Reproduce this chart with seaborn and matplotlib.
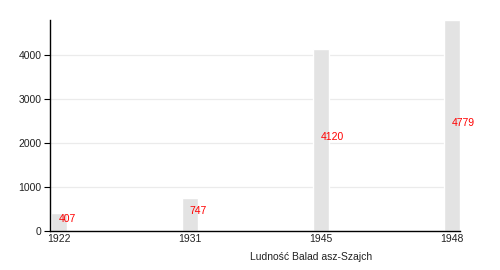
import matplotlib
matplotlib.use("Agg")
import matplotlib.pyplot as plt
import seaborn as sns
import pandas as pd

years = ["1922", "1931", "1945", "1948"]
population = [407, 747, 4120, 4779]
x_label = "Ludność Balad asz-Szajch"
y_ticks = [0, 1000, 2000, 3000, 4000]

sns.set_theme(style="white")
plt.rcParams['font.family'] = ['Liberation Sans', 'DejaVu Sans']

df = pd.DataFrame({"year": years, "population": population})

fig = plt.figure(figsize=(5, 2.7), dpi=100)
ax = fig.add_axes([0.10, 0.145, 0.82, 0.78])

sns.barplot(data=df, x="year", y="population", ax=ax, color="#e3e3e3",
            saturation=1, width=0.122, zorder=2)

for i, v in enumerate(population):
    ax.text(i, v / 2, str(v), color="#ff0000", fontsize=7.5,
            ha="left", va="baseline", zorder=3)

ax.set_ylim(0, 4779)
ax.set_xlim(-0.065, 3.062)
ax.set_yticks(y_ticks)
ax.yaxis.grid(True, color="#ebebeb", linewidth=0.9, zorder=0)
ax.set_axisbelow(True)

for s in ["top", "right"]:
    ax.spines[s].set_visible(False)
for s in ["left", "bottom"]:
    ax.spines[s].set_color("black")
    ax.spines[s].set_linewidth(1.0)

ax.tick_params(axis="y", length=4, width=0.8, color="black", labelsize=7.5,
               pad=2, left=True, labelcolor="#222222")
ax.tick_params(axis="x", length=0, labelsize=7.5, pad=2, labelcolor="#222222")

ax.set_ylabel("")
ax.set_xlabel(x_label, fontsize=7.5, color="#222222")
ax.xaxis.set_label_coords(0.637, -0.1)

fig.savefig("out.png", dpi=100)
